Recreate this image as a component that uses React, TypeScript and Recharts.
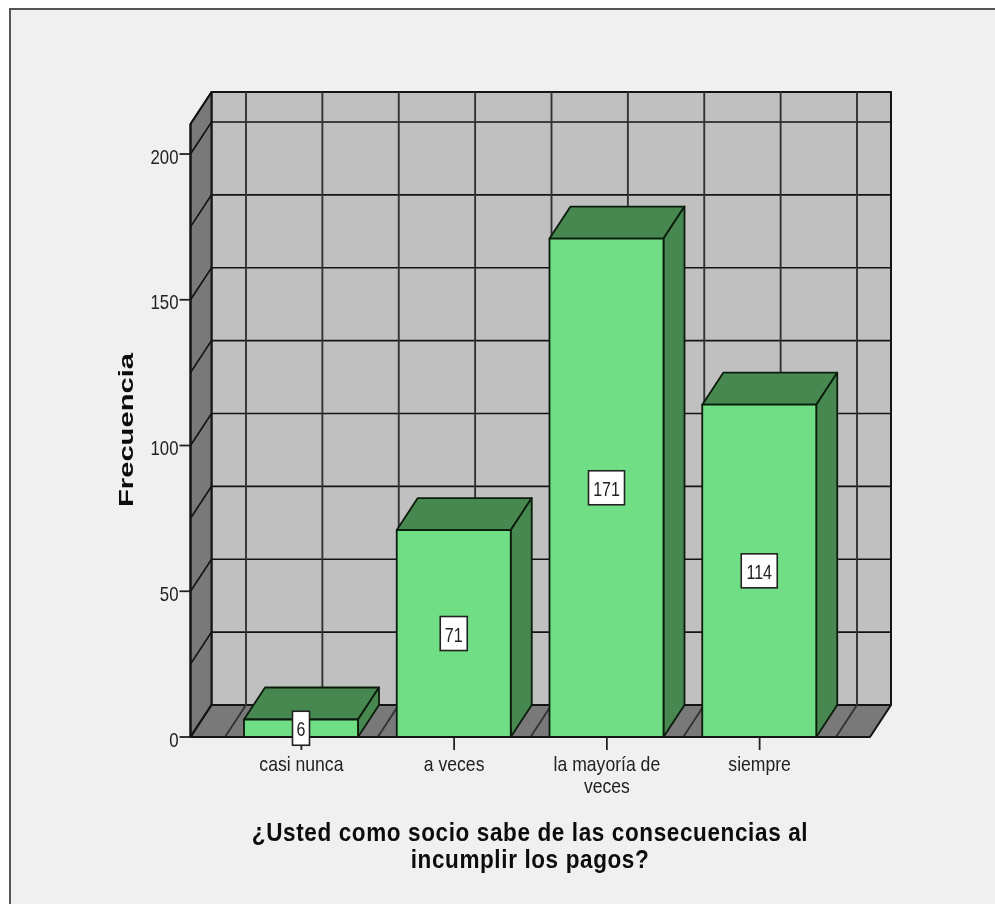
import { BarChart, Bar, XAxis, YAxis, CartesianGrid, LabelList } from "recharts";

const categorias = ["casi nunca", "a veces", "la mayoría de veces", "siempre"];
const frecuencias = [6, 71, 171, 114];
const etiquetas: Record<string, string[]> = {
  "casi nunca": ["casi nunca"],
  "a veces": ["a veces"],
  "la mayoría de veces": ["la mayoría de", "veces"],
  siempre: ["siempre"],
};
const yTicks = [0, 50, 100, 150, 200];
const yMax = 210.3;
const gridValues = [0, 25, 50, 75, 100, 125, 150, 175, 200, yMax];
const tituloX = ["¿Usted como socio sabe de las consecuencias al", "incumplir los pagos?"];
const tituloY = "Frecuencia";

const data = categorias.map((c, i) => ({ categoria: c, frecuencia: frecuencias[i] }));

const W = 986;
const H = 896;
const OX = 9; // el panel empieza en x=9, y=8
const OY = 8;
const AXIS_H = 904 - 737;
const AXIS_W = 190.5 - OX;
const M = { top: 124 - OY, right: 995 - 870, bottom: 0, left: 0 };
const PL = AXIS_W;
const PR = 870 - OX;
const PT = M.top;
const PB = 737 - OY;
const DX = 21;
const DY = 32;
const PAD = { left: 34.5, right: 34 };

const LINE = "#141414";
const SOFT = "#333";
const FONT = "'Liberation Sans', Arial, sans-serif";

// la imagen original esta estirada en vertical: texto alto y estrecho
function Txt({ x, y, sx = 0.88, size = 20, anchor = "middle", children }: any) {
  return (
    <text
      transform={`translate(${x} ${y}) scale(${sx} 1)`}
      textAnchor={anchor}
      fontFamily={FONT}
      fontSize={size}
      fill="#222"
    >
      {children}
    </text>
  );
}

function HLine(p: any) {
  const y = p.y1;
  return (
    <g>
      {p.index === 0 && (
        <g stroke={LINE} strokeWidth={2} strokeLinejoin="round">
          <polygon fill="#c0c0c0" points={`${PL + DX},${PT - DY} ${PR + DX},${PT - DY} ${PR + DX},${PB - DY} ${PL + DX},${PB - DY}`} />
          <polygon fill="#797979" points={`${PL},${PT} ${PL + DX},${PT - DY} ${PL + DX},${PB - DY} ${PL},${PB}`} />
          <polygon fill="#797979" points={`${PL},${PB} ${PL + DX},${PB - DY} ${PR + DX},${PB - DY} ${PR},${PB}`} />
        </g>
      )}
      <polyline
        fill="none"
        stroke={LINE}
        strokeWidth={1.7}
        points={`${PL},${y} ${PL + DX},${y - DY} ${PR + DX},${y - DY}`}
      />
    </g>
  );
}

function VLine(p: any) {
  const x = p.x1;
  return (
    <polyline
      fill="none"
      stroke={SOFT}
      strokeWidth={1.9}
      points={`${x},${PB} ${x + DX},${PB - DY} ${x + DX},${PT - DY}`}
    />
  );
}

// una linea en cada borde y en cada centro de categoria
function verticales() {
  const start = PL + PAD.left;
  const step = (PR - PAD.right - start) / categorias.length / 2;
  const out: number[] = [];
  for (let i = 0; i <= categorias.length * 2; i++) out.push(start + i * step);
  return out;
}

function Barra3D({ x, y, width, height }: any) {
  return (
    <g stroke="#0c1c0c" strokeWidth={1.8} strokeLinejoin="round">
      <polygon fill="#46884f" points={`${x},${y} ${x + DX},${y - DY} ${x + width + DX},${y - DY} ${x + width},${y}`} />
      <polygon fill="#46884f" points={`${x + width},${y} ${x + width + DX},${y - DY} ${x + width + DX},${y + height - DY} ${x + width},${y + height}`} />
      <rect x={x} y={y} width={width} height={height} fill="#70de85" />
    </g>
  );
}

function Caja(p: any) {
  const v = p.viewBox ?? p;
  const cx = v.x + v.width / 2;
  const cy = v.y + v.height / 2;
  const t = String(p.value);
  const w = t.length === 1 ? 17 : t.length === 2 ? 27 : 36;
  return (
    <g>
      <rect x={cx - w / 2} y={cy - 17} width={w} height={34} fill="#fff" stroke="#222" strokeWidth={1.6} />
      <Txt x={cx} y={cy + 8} sx={0.8}>
        {t}
      </Txt>
    </g>
  );
}

function TickX({ x, y, payload }: any) {
  const lines = etiquetas[payload.value] ?? [payload.value];
  return (
    <g>
      {lines.map((l, i) => (
        <Txt key={l} x={x} y={y + 21 + i * 22}>
          {l}
        </Txt>
      ))}
    </g>
  );
}

function TickY({ x, y, payload }: any) {
  return (
    <Txt x={x} y={y + 9.5} sx={0.84} anchor="end">
      {payload.value}
    </Txt>
  );
}

function TituloX() {
  const cx = 530 - OX;
  return (
    <g fontFamily={FONT} fontSize={25} fontWeight={700} fill="#0c0c0c" textAnchor="middle" letterSpacing={0.7}>
      {tituloX.map((l, i) => (
        <text key={l} transform={`translate(${cx} ${841 - OY + i * 27}) scale(0.9 1)`}>
          {l}
        </text>
      ))}
    </g>
  );
}

function TituloY() {
  const bx = 133 - OX;
  const cy = 430 - OY;
  return (
    <text
      transform={`translate(${bx} ${cy}) rotate(-90) scale(1.39 1)`}
      fontFamily={FONT}
      fontSize={21}
      fontWeight={700}
      fill="#0c0c0c"
      textAnchor="middle"
    >
      {tituloY}
    </text>
  );
}

export default function App() {
  return (
    <div style={{ position: "absolute", left: 0, top: 0, width: 995, height: 904, background: "#fff", overflow: "hidden" }}>
      <div
        style={{
          position: "absolute",
          left: OX,
          top: OY,
          width: W,
          height: H,
          background: "#f0f0f0",
          boxShadow: "inset 2px 2px 0 #555",
          filter: "blur(0.6px)",
        }}
      >
        <BarChart width={W} height={H} data={data} margin={M} barSize={114}>
          <CartesianGrid
            horizontalValues={gridValues}
            verticalCoordinatesGenerator={verticales}
            horizontal={HLine as any}
            vertical={VLine as any}
          />
          <XAxis
            dataKey="categoria"
            interval={0}
            height={AXIS_H}
            padding={PAD}
            tick={TickX as any}
            tickSize={13}
            tickMargin={0}
            tickLine={{ stroke: "#222", strokeWidth: 1.8 }}
            axisLine={{ stroke: "#141414", strokeWidth: 2 }}
            label={{ content: TituloX as any }}
          />
          <YAxis
            domain={[0, yMax]}
            ticks={yTicks}
            interval={0}
            width={AXIS_W}
            tick={TickY as any}
            tickSize={11}
            tickMargin={1}
            tickLine={{ stroke: "#222", strokeWidth: 1.8 }}
            axisLine={{ stroke: "#141414", strokeWidth: 2 }}
            label={{ content: TituloY as any }}
          />
          <Bar dataKey="frecuencia" shape={Barra3D as any} isAnimationActive={false}>
            <LabelList dataKey="frecuencia" content={Caja as any} />
          </Bar>
        </BarChart>
      </div>
    </div>
  );
}
